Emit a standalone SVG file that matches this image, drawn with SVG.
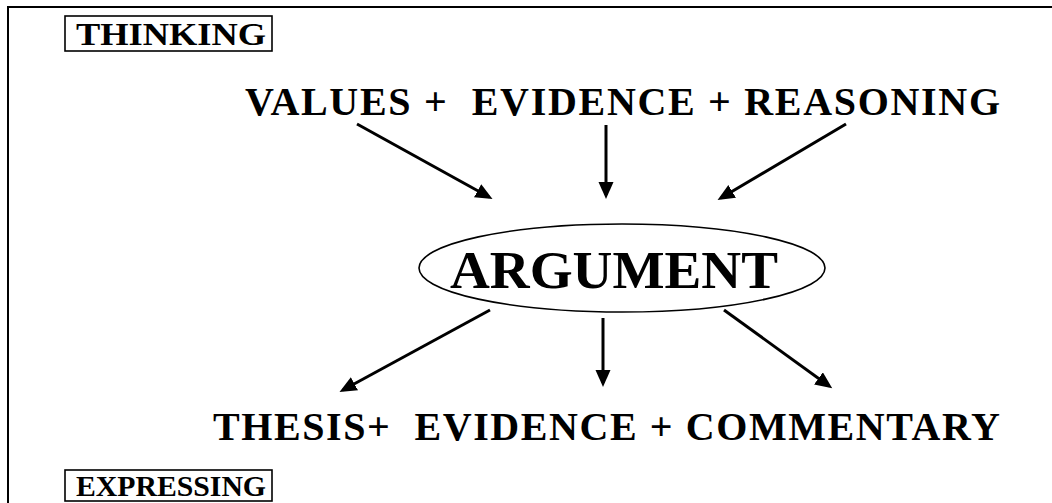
<svg xmlns="http://www.w3.org/2000/svg" width="1052" height="503" viewBox="0 0 1052 503">
<style>
.t{font-family:"Liberation Serif","Times New Roman",serif;font-weight:bold;fill:#000}
.box{fill:none;stroke:#000;stroke-width:1.6}
.arr{stroke:#000;stroke-width:3;fill:none;marker-end:url(#ah)}
</style>
<defs>
<marker id="ah" markerUnits="userSpaceOnUse" markerWidth="18" markerHeight="16" refX="13" refY="7.5" orient="auto">
<path d="M0,0 L17,7.5 L0,15 z" fill="#000"/>
</marker>
</defs>
<rect width="1052" height="503" fill="#fff"/>
<g id="frame">
<path d="M8,503 V7 H1052" fill="none" stroke="#000" stroke-width="2"/>
</g>
<g id="thinking">
<rect class="box" x="65" y="16" width="207" height="35"/>
<text class="t" x="76" y="45" font-size="31" textLength="190" lengthAdjust="spacingAndGlyphs">THINKING</text>
</g>
<g id="inputs">
<text class="t" x="245" y="115" font-size="40" textLength="755" lengthAdjust="spacing" xml:space="preserve">VALUES +  EVIDENCE + REASONING</text>
</g>
<g id="argument">
<ellipse cx="622" cy="268" rx="203" ry="44" fill="none" stroke="#000" stroke-width="1.6"/>
<text class="t" x="450" y="288" font-size="53" textLength="328" lengthAdjust="spacingAndGlyphs">ARGUMENT</text>
</g>
<g id="outputs">
<text class="t" x="213" y="440" font-size="40" textLength="787" lengthAdjust="spacing" xml:space="preserve">THESIS+  EVIDENCE + COMMENTARY</text>
</g>
<g id="expressing">
<rect class="box" x="65" y="470" width="207" height="31"/>
<text class="t" x="76" y="496" font-size="30" textLength="190" lengthAdjust="spacingAndGlyphs">EXPRESSING</text>
</g>
<g id="connectors">
<line class="arr" x1="357" y1="124" x2="489" y2="197"/>
<line class="arr" x1="606" y1="125" x2="606" y2="195"/>
<line class="arr" x1="846" y1="124" x2="721" y2="198"/>
<line class="arr" x1="490" y1="310" x2="343" y2="390"/>
<line class="arr" x1="603" y1="318" x2="603" y2="383"/>
<line class="arr" x1="724" y1="310" x2="829" y2="386"/>
</g>
</svg>
